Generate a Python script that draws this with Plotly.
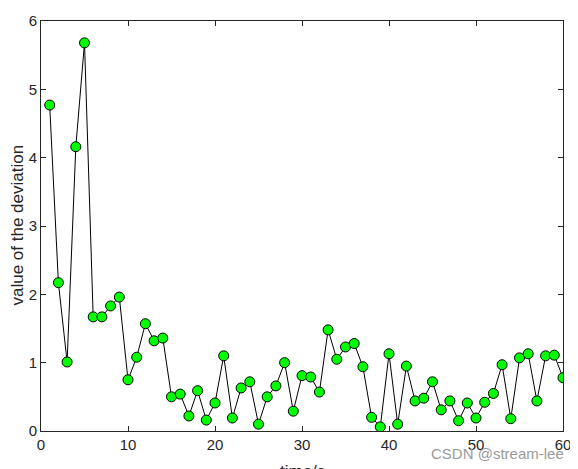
import plotly.graph_objects as go

t = list(range(1, 61))
deviation = [4.77, 2.17, 1.01, 4.16, 5.68, 1.67, 1.67, 1.83, 1.96, 0.75,
             1.08, 1.57, 1.32, 1.36, 0.50, 0.54, 0.22, 0.59, 0.16, 0.41,
             1.10, 0.19, 0.63, 0.72, 0.10, 0.50, 0.66, 1.00, 0.29, 0.81,
             0.79, 0.57, 1.48, 1.05, 1.23, 1.28, 0.94, 0.20, 0.06, 1.13,
             0.10, 0.95, 0.44, 0.48, 0.72, 0.31, 0.44, 0.15, 0.41, 0.19,
             0.42, 0.55, 0.97, 0.18, 1.07, 1.13, 0.44, 1.10, 1.11, 0.78]
x_ticks = [0, 10, 20, 30, 40, 50, 60]
y_ticks = [0, 1, 2, 3, 4, 5, 6]

FONT = "Liberation Sans, Arial"
TXT = "#262626"

fig = go.Figure()
fig.add_trace(go.Scatter(
    x=t, y=deviation, mode="lines+markers",
    line=dict(color="black", width=1),
    marker=dict(color="#00ff00", size=10, line=dict(color="black", width=1)),
    showlegend=False,
))

axis_common = dict(
    showline=True, linecolor=TXT, linewidth=1, mirror="ticks",
    ticks="inside", ticklen=5, tickcolor=TXT, tickwidth=1,
    showgrid=False, zeroline=False, automargin=False,
    tickfont=dict(family=FONT, size=15, color=TXT),
)

fig.update_xaxes(range=[0, 60], tickvals=x_ticks, **axis_common)
fig.update_yaxes(range=[0, 6], tickvals=y_ticks, **axis_common)

# page has an 8px body margin; compensate so plot area lands at 41..563 x 21..431
OFF = 8
W, H = 578, 469
L, T = 41 - OFF, 21 - OFF
pw, ph = 522, 410
R, B = W - L - pw, H - T - ph


def px_x(p):
    return (p - OFF - L) / pw


def px_y(p):
    return 1 - (p - OFF - T) / ph


fig.add_annotation(text="value of the deviation", xref="paper", yref="paper",
                   x=px_x(16.5), y=px_y(225), xanchor="center", yanchor="middle",
                   textangle=-90, showarrow=False,
                   font=dict(family=FONT, size=17, color=TXT))
fig.add_annotation(text="time/s", xref="paper", yref="paper",
                   x=0.5, y=px_y(460), xanchor="center", yanchor="top",
                   showarrow=False,
                   font=dict(family=FONT, size=17, color=TXT))

fig.add_annotation(text="CSDN @stream-lee", xref="paper", yref="paper",
                   x=px_x(566), y=px_y(443),
                   xanchor="right", yanchor="top", showarrow=False,
                   font=dict(family=FONT, size=15, color="#9a9a9a"))

fig.update_layout(
    width=W, height=H,
    margin=dict(l=L, r=R, t=T, b=B),
    paper_bgcolor="white", plot_bgcolor="white",
)

fig.write_html("out.html")
